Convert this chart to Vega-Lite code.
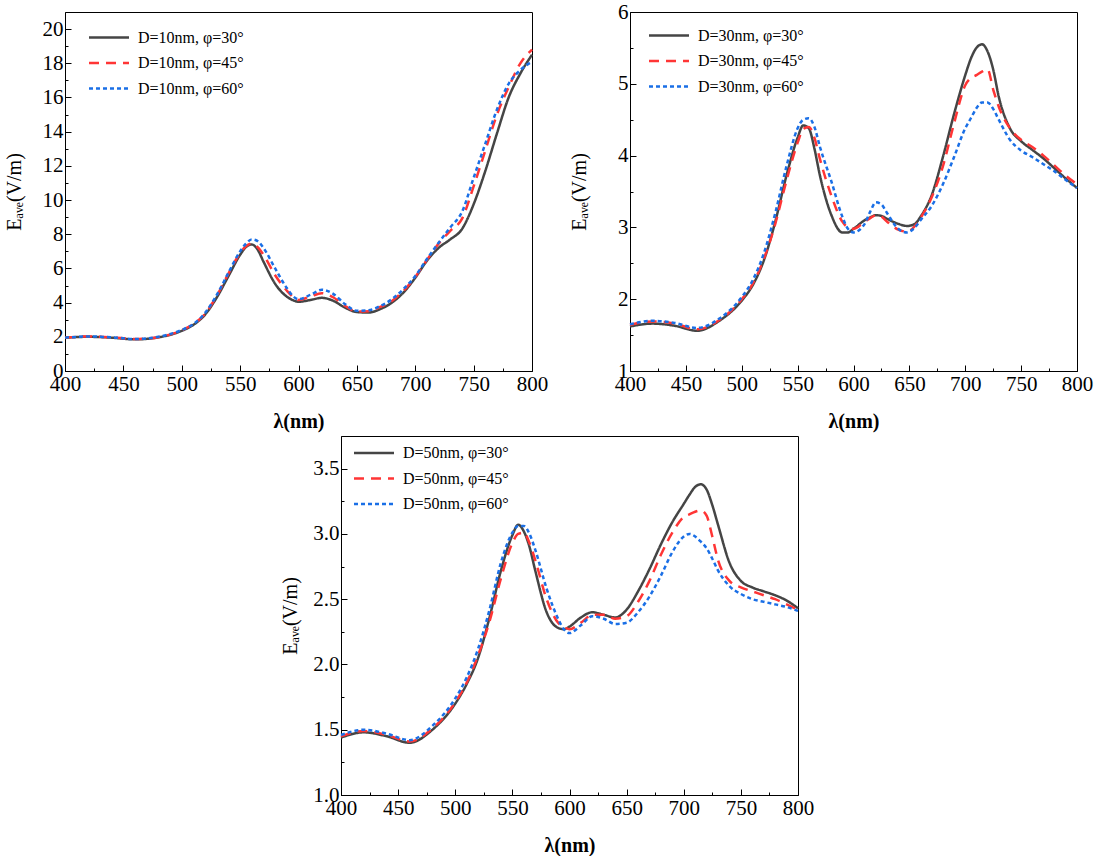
{
  "$schema": "https://vega.github.io/schema/vega-lite/v6.json",
  "padding": {"left": 3, "top": 0, "right": 0, "bottom": 0},
  "background": "white",
  "datasets": {
    "d10": [
      {"x": 400, "a30": 1.95, "a45": 1.95, "a60": 1.95},
      {"x": 420, "a30": 2.0, "a45": 2.02, "a60": 2.02},
      {"x": 440, "a30": 1.95, "a45": 1.97, "a60": 1.97},
      {"x": 460, "a30": 1.85, "a45": 1.87, "a60": 1.87},
      {"x": 480, "a30": 1.97, "a45": 1.98, "a60": 2.0},
      {"x": 500, "a30": 2.35, "a45": 2.38, "a60": 2.4},
      {"x": 510, "a30": 2.7, "a45": 2.75, "a60": 2.75},
      {"x": 520, "a30": 3.3, "a45": 3.35, "a60": 3.4},
      {"x": 530, "a30": 4.3, "a45": 4.4, "a60": 4.45},
      {"x": 540, "a30": 5.55, "a45": 5.7, "a60": 5.75},
      {"x": 550, "a30": 6.8, "a45": 6.9, "a60": 7.0},
      {"x": 555, "a30": 7.25, "a45": 7.3, "a60": 7.45},
      {"x": 560, "a30": 7.4, "a45": 7.45, "a60": 7.7},
      {"x": 565, "a30": 7.1, "a45": 7.25, "a60": 7.6},
      {"x": 570, "a30": 6.4, "a45": 6.8, "a60": 7.2},
      {"x": 580, "a30": 5.1, "a45": 5.6, "a60": 6.0},
      {"x": 590, "a30": 4.35, "a45": 4.7, "a60": 4.85},
      {"x": 595, "a30": 4.15, "a45": 4.35, "a60": 4.4},
      {"x": 600, "a30": 4.05, "a45": 4.15, "a60": 4.2},
      {"x": 610, "a30": 4.15, "a45": 4.35, "a60": 4.45},
      {"x": 620, "a30": 4.28, "a45": 4.55, "a60": 4.75},
      {"x": 630, "a30": 4.1, "a45": 4.3, "a60": 4.5},
      {"x": 640, "a30": 3.7, "a45": 3.8, "a60": 3.9},
      {"x": 650, "a30": 3.45, "a45": 3.48, "a60": 3.52},
      {"x": 660, "a30": 3.42, "a45": 3.5, "a60": 3.55},
      {"x": 670, "a30": 3.62, "a45": 3.75, "a60": 3.8},
      {"x": 680, "a30": 4.0, "a45": 4.1, "a60": 4.2},
      {"x": 690, "a30": 4.6, "a45": 4.7, "a60": 4.8},
      {"x": 700, "a30": 5.45, "a45": 5.5, "a60": 5.55},
      {"x": 710, "a30": 6.45, "a45": 6.5, "a60": 6.55},
      {"x": 720, "a30": 7.2, "a45": 7.45, "a60": 7.5},
      {"x": 730, "a30": 7.7, "a45": 8.2, "a60": 8.4},
      {"x": 740, "a30": 8.3, "a45": 8.9, "a60": 9.3},
      {"x": 750, "a30": 9.75, "a45": 10.8, "a60": 11.3},
      {"x": 760, "a30": 11.7, "a45": 12.9, "a60": 13.3},
      {"x": 770, "a30": 13.9, "a45": 15.0, "a60": 15.3},
      {"x": 780, "a30": 16.0, "a45": 16.6, "a60": 16.8},
      {"x": 790, "a30": 17.4, "a45": 18.0, "a60": 17.6},
      {"x": 800, "a30": 18.5, "a45": 18.8, "a60": 18.1}
    ],
    "d30": [
      {"x": 400, "a30": 1.62, "a45": 1.64, "a60": 1.65},
      {"x": 420, "a30": 1.66, "a45": 1.69, "a60": 1.7},
      {"x": 440, "a30": 1.63, "a45": 1.66, "a60": 1.67},
      {"x": 460, "a30": 1.56, "a45": 1.58, "a60": 1.6},
      {"x": 480, "a30": 1.7, "a45": 1.71, "a60": 1.73},
      {"x": 500, "a30": 1.98, "a45": 2.0, "a60": 2.03},
      {"x": 510, "a30": 2.2, "a45": 2.22, "a60": 2.27},
      {"x": 520, "a30": 2.55, "a45": 2.57, "a60": 2.65},
      {"x": 530, "a30": 3.08, "a45": 3.05, "a60": 3.2},
      {"x": 540, "a30": 3.72, "a45": 3.65, "a60": 3.85},
      {"x": 550, "a30": 4.25, "a45": 4.18, "a60": 4.38},
      {"x": 555, "a30": 4.42, "a45": 4.37, "a60": 4.5},
      {"x": 560, "a30": 4.38, "a45": 4.4, "a60": 4.52},
      {"x": 565, "a30": 4.1, "a45": 4.25, "a60": 4.4},
      {"x": 570, "a30": 3.72, "a45": 3.95, "a60": 4.12},
      {"x": 580, "a30": 3.18, "a45": 3.45, "a60": 3.65},
      {"x": 590, "a30": 2.93, "a45": 3.08, "a60": 3.15},
      {"x": 595, "a30": 2.93, "a45": 3.0, "a60": 2.98},
      {"x": 600, "a30": 2.98, "a45": 2.98, "a60": 2.93},
      {"x": 610, "a30": 3.1, "a45": 3.08, "a60": 3.05},
      {"x": 615, "a30": 3.14, "a45": 3.13, "a60": 3.22},
      {"x": 620, "a30": 3.17, "a45": 3.17, "a60": 3.35},
      {"x": 625, "a30": 3.16, "a45": 3.15, "a60": 3.32},
      {"x": 630, "a30": 3.12, "a45": 3.08, "a60": 3.2},
      {"x": 640, "a30": 3.05, "a45": 2.97, "a60": 2.98},
      {"x": 648, "a30": 3.02, "a45": 2.94, "a60": 2.93},
      {"x": 655, "a30": 3.05, "a45": 3.02, "a60": 3.0},
      {"x": 660, "a30": 3.15, "a45": 3.13, "a60": 3.1},
      {"x": 670, "a30": 3.45, "a45": 3.42, "a60": 3.3},
      {"x": 680, "a30": 3.98, "a45": 3.85, "a60": 3.6},
      {"x": 690, "a30": 4.58, "a45": 4.45, "a60": 3.98},
      {"x": 700, "a30": 5.12, "a45": 4.98, "a60": 4.38},
      {"x": 705, "a30": 5.35, "a45": 5.08, "a60": 4.52},
      {"x": 710, "a30": 5.5, "a45": 5.12, "a60": 4.66},
      {"x": 715, "a30": 5.55, "a45": 5.17, "a60": 4.74},
      {"x": 720, "a30": 5.45, "a45": 5.2, "a60": 4.74},
      {"x": 725, "a30": 5.2, "a45": 4.92, "a60": 4.65},
      {"x": 730, "a30": 4.82, "a45": 4.68, "a60": 4.5},
      {"x": 740, "a30": 4.38, "a45": 4.38, "a60": 4.22},
      {"x": 750, "a30": 4.2, "a45": 4.22, "a60": 4.07},
      {"x": 760, "a30": 4.08, "a45": 4.12, "a60": 3.98},
      {"x": 770, "a30": 3.96, "a45": 4.0, "a60": 3.88},
      {"x": 780, "a30": 3.82, "a45": 3.86, "a60": 3.78},
      {"x": 790, "a30": 3.68, "a45": 3.72, "a60": 3.66},
      {"x": 800, "a30": 3.55, "a45": 3.6, "a60": 3.55}
    ],
    "d50": [
      {"x": 400, "a30": 1.44, "a45": 1.45, "a60": 1.46},
      {"x": 420, "a30": 1.48, "a45": 1.49, "a60": 1.5},
      {"x": 440, "a30": 1.45, "a45": 1.46, "a60": 1.47},
      {"x": 460, "a30": 1.4, "a45": 1.41, "a60": 1.42},
      {"x": 480, "a30": 1.5, "a45": 1.51, "a60": 1.53},
      {"x": 500, "a30": 1.7, "a45": 1.71, "a60": 1.74},
      {"x": 510, "a30": 1.85, "a45": 1.86, "a60": 1.9},
      {"x": 520, "a30": 2.05, "a45": 2.07, "a60": 2.12},
      {"x": 530, "a30": 2.36, "a45": 2.33, "a60": 2.42},
      {"x": 540, "a30": 2.72, "a45": 2.66, "a60": 2.78},
      {"x": 550, "a30": 2.99, "a45": 2.93, "a60": 3.01},
      {"x": 555, "a30": 3.07, "a45": 3.0, "a60": 3.06},
      {"x": 560, "a30": 3.02, "a45": 3.01, "a60": 3.06},
      {"x": 565, "a30": 2.9, "a45": 2.93, "a60": 3.0},
      {"x": 570, "a30": 2.72, "a45": 2.8, "a60": 2.88},
      {"x": 580, "a30": 2.4, "a45": 2.5, "a60": 2.58},
      {"x": 590, "a30": 2.28, "a45": 2.32, "a60": 2.35},
      {"x": 595, "a30": 2.27, "a45": 2.29, "a60": 2.27},
      {"x": 600, "a30": 2.29, "a45": 2.27, "a60": 2.24},
      {"x": 610, "a30": 2.36, "a45": 2.32, "a60": 2.3},
      {"x": 620, "a30": 2.4, "a45": 2.38, "a60": 2.37},
      {"x": 630, "a30": 2.38, "a45": 2.38, "a60": 2.35},
      {"x": 640, "a30": 2.36, "a45": 2.35, "a60": 2.31},
      {"x": 650, "a30": 2.42, "a45": 2.37, "a60": 2.32},
      {"x": 660, "a30": 2.56, "a45": 2.48, "a60": 2.4},
      {"x": 670, "a30": 2.73, "a45": 2.64, "a60": 2.52},
      {"x": 680, "a30": 2.92, "a45": 2.84, "a60": 2.68},
      {"x": 690, "a30": 3.09, "a45": 3.01, "a60": 2.86},
      {"x": 700, "a30": 3.23, "a45": 3.13, "a60": 2.98},
      {"x": 705, "a30": 3.3, "a45": 3.15, "a60": 3.0},
      {"x": 710, "a30": 3.36, "a45": 3.17, "a60": 2.98},
      {"x": 715, "a30": 3.38, "a45": 3.18, "a60": 2.94},
      {"x": 720, "a30": 3.34, "a45": 3.14, "a60": 2.89},
      {"x": 725, "a30": 3.22, "a45": 2.98, "a60": 2.81},
      {"x": 730, "a30": 3.07, "a45": 2.8, "a60": 2.72},
      {"x": 740, "a30": 2.78, "a45": 2.64, "a60": 2.6},
      {"x": 750, "a30": 2.64, "a45": 2.59, "a60": 2.54},
      {"x": 760, "a30": 2.59, "a45": 2.56, "a60": 2.5},
      {"x": 770, "a30": 2.56, "a45": 2.53, "a60": 2.48},
      {"x": 780, "a30": 2.53, "a45": 2.5, "a60": 2.46},
      {"x": 790, "a30": 2.49, "a45": 2.46, "a60": 2.44},
      {"x": 800, "a30": 2.43, "a45": 2.42, "a60": 2.41}
    ]
  },
  "vconcat": [
    {
      "hconcat": [
        {
          "width": 467,
          "height": 359,
          "data": {"name": "d10"},
          "transform": [{"fold": ["a30", "a45", "a60"], "as": ["phi", "E"]}],
          "mark": {"type": "line", "interpolate": "monotone", "strokeWidth": 2.5},
          "encoding": {
            "x": {
              "field": "x", "type": "quantitative",
              "scale": {"domain": [400, 800], "nice": false},
              "axis": {
                "title": "λ(nm)",
                "values": [400, 425, 450, 475, 500, 525, 550, 575, 600, 625, 650, 675, 700, 725, 750, 775, 800],
                "labelExpr": "datum.value % 50 == 0 ? datum.label : ''",
                "tickSize": {"condition": {"test": "datum.value % 50 != 0", "value": -3}, "value": -6}
              }
            },
            "y": {
              "field": "E", "type": "quantitative",
              "scale": {"domain": [0, 21], "nice": false},
              "axis": {
                "title": "Eₐᵥₑ(V/m)",
                "values": [0, 1, 2, 3, 4, 5, 6, 7, 8, 9, 10, 11, 12, 13, 14, 15, 16, 17, 18, 19, 20],
                "labelExpr": "datum.value % 2 == 0 ? datum.label : ''",
                "tickSize": {"condition": {"test": "datum.value % 2 != 0", "value": -3}, "value": -6}
              }
            },
            "color": {
              "field": "phi", "type": "nominal",
              "scale": {"domain": ["a30", "a45", "a60"], "range": ["#454545", "#ff3535", "#1a6fe6"]},
              "legend": {"legendX": 21, "legendY": 17.5, "labelExpr": "'D=10nm, φ=' + substring(datum.label, 1) + '°'"}
            },
            "strokeDash": {
              "field": "phi", "type": "nominal",
              "scale": {"domain": ["a30", "a45", "a60"], "range": [[1, 0], [10, 7], [4, 3]]},
              "legend": {"legendX": 21, "legendY": 17.5, "labelExpr": "'D=10nm, φ=' + substring(datum.label, 1) + '°'"}
            }
          }
        },
        {
          "width": 447,
          "height": 359,
          "data": {"name": "d30"},
          "transform": [{"fold": ["a30", "a45", "a60"], "as": ["phi", "E"]}],
          "mark": {"type": "line", "interpolate": "monotone", "strokeWidth": 2.5},
          "encoding": {
            "x": {
              "field": "x", "type": "quantitative",
              "scale": {"domain": [400, 800], "nice": false},
              "axis": {
                "title": "λ(nm)",
                "values": [400, 425, 450, 475, 500, 525, 550, 575, 600, 625, 650, 675, 700, 725, 750, 775, 800],
                "labelExpr": "datum.value % 50 == 0 ? datum.label : ''",
                "tickSize": {"condition": {"test": "datum.value % 50 != 0", "value": -3}, "value": -6}
              }
            },
            "y": {
              "field": "E", "type": "quantitative",
              "scale": {"domain": [1, 6], "nice": false},
              "axis": {
                "title": "Eₐᵥₑ(V/m)",
                "format": ".0f",
                "values": [1, 1.5, 2, 2.5, 3, 3.5, 4, 4.5, 5, 5.5, 6],
                "labelExpr": "datum.value % 1 == 0 ? datum.label : ''",
                "tickSize": {"condition": {"test": "datum.value % 1 != 0", "value": -3}, "value": -6}
              }
            },
            "color": {
              "field": "phi", "type": "nominal",
              "scale": {"domain": ["a30", "a45", "a60"], "range": ["#454545", "#ff3535", "#1a6fe6"]},
              "legend": {"legendX": 16, "legendY": 15.5, "labelExpr": "'D=30nm, φ=' + substring(datum.label, 1) + '°'"}
            },
            "strokeDash": {
              "field": "phi", "type": "nominal",
              "scale": {"domain": ["a30", "a45", "a60"], "range": [[1, 0], [10, 7], [4, 3]]},
              "legend": {"legendX": 16, "legendY": 15.5, "labelExpr": "'D=30nm, φ=' + substring(datum.label, 1) + '°'"}
            }
          }
        }
      ],
      "spacing": 19,
      "resolve": {"scale": {"color": "independent", "strokeDash": "independent"}}
    },
    {
      "hconcat": [
        {
          "width": 214,
          "height": 10,
          "view": {"stroke": null},
          "data": {"values": []},
          "mark": "point",
          "encoding": {}
        },
        {
          "width": 457,
          "height": 359,
          "data": {"name": "d50"},
          "transform": [{"fold": ["a30", "a45", "a60"], "as": ["phi", "E"]}],
          "mark": {"type": "line", "interpolate": "monotone", "strokeWidth": 2.5},
          "encoding": {
            "x": {
              "field": "x", "type": "quantitative",
              "scale": {"domain": [400, 800], "nice": false},
              "axis": {
                "title": "λ(nm)",
                "values": [400, 425, 450, 475, 500, 525, 550, 575, 600, 625, 650, 675, 700, 725, 750, 775, 800],
                "labelExpr": "datum.value % 50 == 0 ? datum.label : ''",
                "tickSize": {"condition": {"test": "datum.value % 50 != 0", "value": -3}, "value": -6}
              }
            },
            "y": {
              "field": "E", "type": "quantitative",
              "scale": {"domain": [1, 3.75], "nice": false},
              "axis": {
                "title": "Eₐᵥₑ(V/m)",
                "format": ".1f",
                "values": [1, 1.25, 1.5, 1.75, 2, 2.25, 2.5, 2.75, 3, 3.25, 3.5],
                "labelExpr": "datum.value % 0.5 == 0 ? datum.label : ''",
                "tickSize": {"condition": {"test": "datum.value % 0.5 != 0", "value": -3}, "value": -6}
              }
            },
            "color": {
              "field": "phi", "type": "nominal",
              "scale": {"domain": ["a30", "a45", "a60"], "range": ["#454545", "#ff3535", "#1a6fe6"]},
              "legend": {"legendX": 10, "legendY": 9, "labelExpr": "'D=50nm, φ=' + substring(datum.label, 1) + '°'"}
            },
            "strokeDash": {
              "field": "phi", "type": "nominal",
              "scale": {"domain": ["a30", "a45", "a60"], "range": [[1, 0], [10, 7], [4, 3]]},
              "legend": {"legendX": 10, "legendY": 9, "labelExpr": "'D=50nm, φ=' + substring(datum.label, 1) + '°'"}
            }
          }
        }
      ],
      "spacing": 0,
      "resolve": {"scale": {"color": "independent", "strokeDash": "independent"}}
    }
  ],
  "spacing": 3,
  "resolve": {"scale": {"color": "independent", "strokeDash": "independent"}},
  "config": {
    "view": {"stroke": "#000", "strokeWidth": 1},
    "axis": {
      "grid": false,
      "domainColor": "#000",
      "tickColor": "#000",
      "tickWidth": 1,
      "labelFont": "Liberation Serif",
      "labelFontSize": 21,
      "labelColor": "#000",
      "labelPadding": 8,
      "labelOverlap": false,
      "titleFont": "Liberation Serif",
      "titleFontSize": 20,
      "titleColor": "#000"
    },
    "axisX": {"titleFontWeight": "bold", "titlePadding": 14, "labelFlush": false},
    "axisY": {"titleFontWeight": "normal", "titleX": -41},
    "legend": {
      "orient": "none",
      "title": null,
      "symbolType": "M-1,0H7",
      "symbolSize": 100,
      "symbolStrokeWidth": 2.5,
      "labelFont": "Liberation Serif",
      "labelFontSize": 16,
      "labelColor": "#000",
      "labelOffset": 36,
      "rowPadding": 9.5,
      "padding": 0
    }
  }
}
